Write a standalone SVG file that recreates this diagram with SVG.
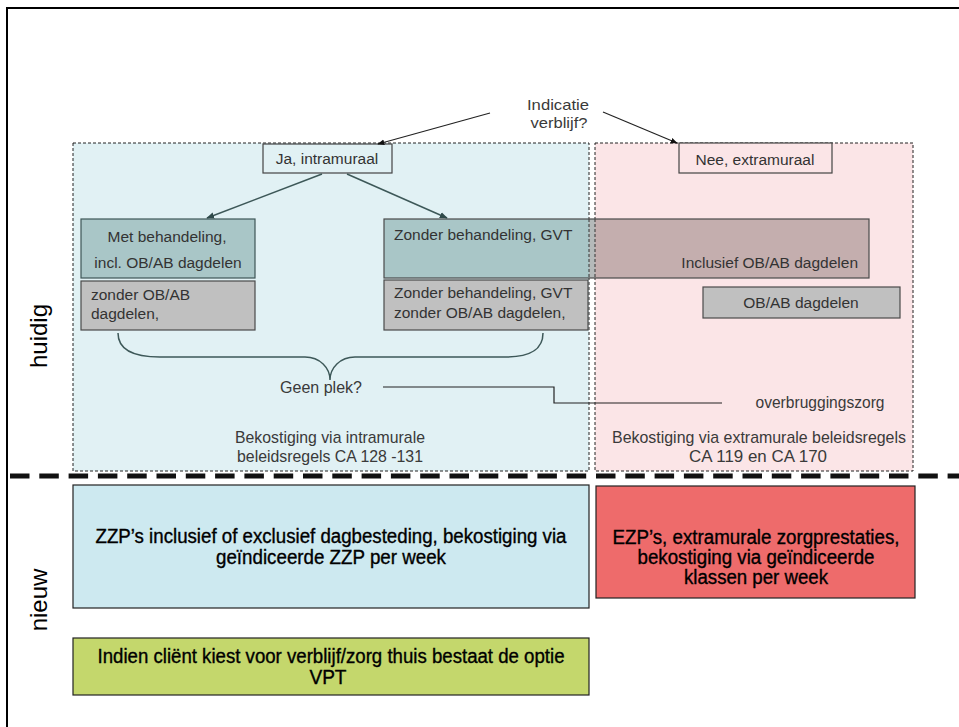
<svg xmlns="http://www.w3.org/2000/svg" width="959" height="727" viewBox="0 0 959 727">
<style>
  text { font-family: "Liberation Sans", Arial, sans-serif; }
  .t { font-size: 15.5px; fill: #333; }
  .tc { font-size: 15.5px; fill: #333; text-anchor: middle; }
  .tn { font-size: 17px; fill: #3a3a3a; text-anchor: middle; }
  .ti { font-size: 15px; fill: #3a3a3a; text-anchor: middle; }
  .tb { font-size: 19.5px; fill: #000; stroke: #000; stroke-width: 0.35; text-anchor: middle; }
  .side { font-size: 24px; fill: #000; text-anchor: middle; }
  .region { stroke: #222; stroke-width: 1; stroke-dasharray: 3 2; }
  .box { stroke: #444; stroke-width: 1.2; }
  .teal { fill: #a9c6c7; stroke: #3e5656; stroke-width: 1.2; }
  .gray { fill: #c0c0c0; stroke: #4a4a4a; stroke-width: 1.2; }
  .conn { fill: none; stroke: #222; stroke-width: 1.2; }
  .conn2 { fill: none; stroke: #3d5858; stroke-width: 1.5; }
</style>
<defs>
  <marker id="ah" viewBox="0 0 10 10" refX="9" refY="5" markerWidth="7" markerHeight="7" orient="auto" markerUnits="userSpaceOnUse">
    <path d="M0,1 L10,5 L0,9 Z" fill="#111"/>
  </marker>
  <marker id="ah2" viewBox="0 0 10 10" refX="9" refY="5" markerWidth="8" markerHeight="8" orient="auto" markerUnits="userSpaceOnUse">
    <path d="M0,1 L10,5 L0,9 Z" fill="#2f4a4a"/>
  </marker>
</defs>
<rect x="0" y="0" width="959" height="727" fill="#fff"/>
<rect x="7" y="8" width="970" height="740" fill="none" stroke="#000" stroke-width="2"/>

<g id="region-intramuraal">
  <rect class="region" x="73" y="143" width="516" height="328" fill="#e1f1f4"/>
  <text class="tn" x="330" y="443" textLength="190" lengthAdjust="spacingAndGlyphs">Bekostiging via intramurale</text>
  <text class="tn" x="330" y="462" textLength="186" lengthAdjust="spacingAndGlyphs">beleidsregels CA 128 -131</text>
</g>
<g id="region-extramuraal">
  <rect class="region" x="595" y="143" width="318" height="328" fill="#fbe5e7"/>
  <text class="tn" x="759" y="443" textLength="294" lengthAdjust="spacingAndGlyphs">Bekostiging via extramurale beleidsregels</text>
  <text class="tn" x="758" y="462" textLength="138" lengthAdjust="spacingAndGlyphs">CA 119 en CA 170</text>
</g>

<g id="label-huidig">
  <text class="side" transform="translate(47,336) rotate(-90)">huidig</text>
</g>
<g id="label-nieuw">
  <text class="side" transform="translate(47,600) rotate(-90)">nieuw</text>
</g>

<g id="node-indicatie">
  <text class="ti" x="558" y="110" textLength="62" lengthAdjust="spacingAndGlyphs">Indicatie</text>
  <text class="ti" x="559" y="128" textLength="57" lengthAdjust="spacingAndGlyphs">verblijf?</text>
</g>

<g id="node-ja">
  <rect class="box" x="263" y="144" width="129" height="29" fill="#e1f1f4"/>
  <text class="tc" x="327" y="164">Ja, intramuraal</text>
</g>
<g id="node-nee">
  <rect class="box" x="679" y="143" width="153" height="30" fill="#fbe5e7"/>
  <text class="tc" x="755" y="165">Nee, extramuraal</text>
</g>

<g id="node-met">
  <rect class="teal" x="81" y="219" width="174" height="59"/>
  <text class="tc" x="167" y="242">Met behandeling,</text>
  <text class="tc" x="168" y="268">incl. OB/AB dagdelen</text>
</g>
<g id="node-zonder-ob-links">
  <rect class="gray" x="81" y="281" width="174" height="49"/>
  <text class="t" x="91" y="300">zonder OB/AB</text>
  <text class="t" x="91" y="319">dagdelen,</text>
</g>

<g id="node-zonder-gvt">
  <rect x="384" y="219" width="205" height="59" fill="#a9c6c7"/>
  <rect x="589" y="219" width="6" height="59" fill="#b5b9b9"/>
  <rect x="595" y="219" width="274" height="59" fill="#c4aeae"/>
  <line x1="589" y1="219" x2="589" y2="278" stroke="#333" stroke-width="1" stroke-dasharray="3 2"/>
  <line x1="595" y1="219" x2="595" y2="278" stroke="#333" stroke-width="1" stroke-dasharray="3 2"/>
  <rect x="384" y="219" width="485" height="59" fill="none" stroke="#4a4a4a" stroke-width="1.2"/>
  <text class="t" x="394" y="240">Zonder behandeling, GVT</text>
  <text class="t" x="858" y="268" text-anchor="end">Inclusief OB/AB dagdelen</text>
</g>
<g id="node-zonder-gvt-ob">
  <rect class="gray" x="384" y="280" width="204" height="50"/>
  <text class="t" x="394" y="298">Zonder behandeling, GVT</text>
  <text class="t" x="394" y="318">zonder OB/AB dagdelen,</text>
</g>
<g id="node-obab">
  <rect class="gray" x="703" y="287" width="197" height="31"/>
  <text class="tc" x="801" y="308">OB/AB dagdelen</text>
</g>

<g id="node-geen-plek">
  <text class="tn" x="321" y="393" textLength="82" lengthAdjust="spacingAndGlyphs">Geen plek?</text>
</g>
<g id="node-overbrugging">
  <text class="tn" x="820" y="408" textLength="129" lengthAdjust="spacingAndGlyphs">overbruggingszorg</text>
</g>

<g id="connectors">
  <line class="conn" x1="490" y1="113" x2="378" y2="144" marker-end="url(#ah)"/>
  <line class="conn" x1="603" y1="112" x2="677" y2="143" marker-end="url(#ah)"/>
  <line class="conn2" x1="322" y1="174" x2="207" y2="218" marker-end="url(#ah2)"/>
  <line class="conn2" x1="347" y1="174" x2="447" y2="218" marker-end="url(#ah2)"/>
  <path class="conn2" d="M118,333 C118,350 135,357 160,357 L305,357 C320,357 330,368 330,380 C330,368 340,357 355,357 L505,357 C530,357 543,350 543,333"/>
  <path class="conn" d="M383,387 L554,387 L554,403 L722,403"/>
</g>

<line id="divider" x1="10" y1="476" x2="959" y2="476" stroke="#111" stroke-width="5" stroke-dasharray="19.5 9.8"/>

<g id="node-zzp">
  <rect x="73" y="485" width="516" height="123" fill="#cde9f0" stroke="#222" stroke-width="1.2"/>
  <text class="tb" x="331" y="543" textLength="471" lengthAdjust="spacingAndGlyphs">ZZP’s inclusief of exclusief dagbesteding, bekostiging via</text>
  <text class="tb" x="331" y="564" textLength="230" lengthAdjust="spacingAndGlyphs">geïndiceerde ZZP per week</text>
</g>
<g id="node-ezp">
  <rect x="596" y="486" width="319" height="112" fill="#ee6b6b" stroke="#222" stroke-width="1.2"/>
  <text class="tb" x="756" y="544" textLength="287" lengthAdjust="spacingAndGlyphs">EZP’s, extramurale zorgprestaties,</text>
  <text class="tb" x="756" y="564" textLength="237" lengthAdjust="spacingAndGlyphs">bekostiging via geïndiceerde</text>
  <text class="tb" x="756" y="584" textLength="144" lengthAdjust="spacingAndGlyphs">klassen per week</text>
</g>
<g id="node-vpt">
  <rect x="73" y="638" width="516" height="57" fill="#c4d76c" stroke="#222" stroke-width="1.2"/>
  <text class="tb" x="331" y="663" textLength="467" lengthAdjust="spacingAndGlyphs">Indien cliënt kiest voor verblijf/zorg thuis bestaat de optie</text>
  <text class="tb" x="328" y="684" textLength="37" lengthAdjust="spacingAndGlyphs">VPT</text>
</g>
</svg>
